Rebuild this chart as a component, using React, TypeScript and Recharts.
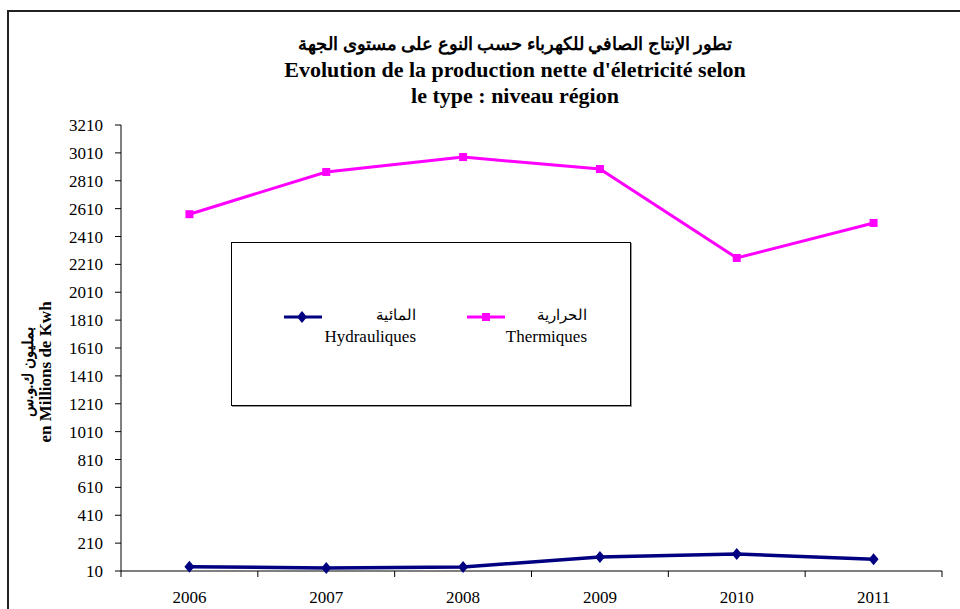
import { LineChart, Line, XAxis, YAxis, Legend, Label } from "recharts";

const years = ["2006", "2007", "2008", "2009", "2010", "2011"];
const hydrauliques = [41, 32, 39, 110, 132, 94];
const thermiques = [2570, 2873, 2980, 2894, 2256, 2507];
const yTicks = [10, 210, 410, 610, 810, 1010, 1210, 1410, 1610, 1810, 2010, 2210, 2410, 2610, 2810, 3010, 3210];

const seriesLabels: Record<string, { ar: string; fr: string }> = {
  hydro: { ar: "المائية", fr: "Hydrauliques" },
  thermo: { ar: "الحرارية", fr: "Thermiques" },
};

const data = years.map((year, i) => ({
  year,
  hydro: hydrauliques[i],
  thermo: thermiques[i],
}));

const W = 960;
const H = 609;
const margin = { top: 125, right: 18, bottom: 0, left: 0 };
const yAxisW = 121;
const band = (W - margin.left - margin.right - yAxisW) / years.length;
const serif = "'Liberation Serif', 'Times New Roman', serif";

const Diamond = (props: any) => {
  const { cx, cy } = props;
  if (cx == null || cy == null) return null;
  return (
    <path
      d={`M${cx},${cy - 6} L${cx + 5},${cy} L${cx},${cy + 6} L${cx - 5},${cy} Z`}
      fill="#000080"
    />
  );
};

const Square = (props: any) => {
  const { cx, cy } = props;
  if (cx == null || cy == null) return null;
  return <rect x={cx - 4} y={cy - 4} width={8} height={8} fill="#ff00ff" />;
};

const XTick = (props: any) => {
  const { x, y, payload, index } = props;
  const last = index === years.length - 1 || payload?.value === years[years.length - 1];
  return (
    <g>
      <line x1={x - band / 2} x2={x - band / 2} y1={y} y2={y + 6} stroke="#000" />
      {last && <line x1={x + band / 2} x2={x + band / 2} y1={y} y2={y + 6} stroke="#000" />}
      <text x={x} y={y + 32} textAnchor="middle" fontSize={17} fontFamily={serif} fill="#000">
        {payload.value}
      </text>
    </g>
  );
};

const itemPos = [
  { left: 52, width: 132 },
  { left: 235, width: 120 },
];

const LegendBox = (props: any) => {
  const payload = props.payload || [];
  return (
    <div style={{ position: "relative", width: "100%", height: "100%" }}>
      {payload.map((entry: any, i: number) => {
        const lab = seriesLabels[entry.dataKey] || { ar: "", fr: entry.value };
        const pos = itemPos[i] || itemPos[0];
        return (
          <div key={entry.dataKey} style={{ position: "absolute", left: pos.left, top: 62 }}>
            <svg width={38} height={24} style={{ position: "absolute", left: 0, top: 0 }}>
              <line x1={0} x2={38} y1={12} y2={12} stroke={entry.color} strokeWidth={3} />
              {entry.dataKey === "hydro" ? (
                <path d="M18,6 L23,12 L18,18 L13,12 Z" fill={entry.color} />
              ) : (
                <rect x={15} y={8} width={8} height={8} fill={entry.color} />
              )}
            </svg>
            <div
              style={{
                position: "absolute",
                left: 0,
                top: 0,
                width: pos.width,
                textAlign: "right",
                fontFamily: serif,
                fontSize: 17,
                lineHeight: "21px",
                color: "#000",
              }}
            >
              <div style={{ fontSize: 15 }}>{lab.ar}</div>
              <div>{lab.fr}</div>
            </div>
          </div>
        );
      })}
    </div>
  );
};

const YLabel = () => (
  <g>
    <text
      transform="translate(28,372) rotate(-90)"
      textAnchor="middle"
      dominantBaseline="central"
      fontSize={15}
      fontWeight="bold"
      fontFamily={serif}
      fill="#000"
    >
      بمليون ك.و.س
    </text>
    <text
      transform="translate(45,372) rotate(-90)"
      textAnchor="middle"
      dominantBaseline="central"
      fontSize={17}
      fontWeight="bold"
      fontFamily={serif}
      fill="#000"
    >
      en Millions de Kwh
    </text>
  </g>
);

export default function App() {
  return (
    <div
      style={{
        position: "fixed",
        left: 0,
        top: 0,
        width: W,
        height: H,
        overflow: "hidden",
        background: "#fff",
        fontFamily: serif,
      }}
    >
      <div
        style={{
          position: "absolute",
          left: 7,
          top: 10,
          width: 1000,
          height: 700,
          borderLeft: "2px solid #222",
          borderTop: "2px solid #222",
        }}
      />
      <div
        style={{
          position: "absolute",
          left: 215,
          width: 600,
          top: 31,
          textAlign: "center",
          fontWeight: "bold",
          fontSize: 22,
          lineHeight: "26px",
          color: "#000",
        }}
      >
        <div style={{ fontSize: 18 }}>تطور الإنتاج الصافي للكهرباء  حسب النوع على مستوى الجهة</div>
        <div>Evolution de la production nette d'életricité selon</div>
        <div>le type : niveau région</div>
      </div>
      <div style={{ position: "absolute", left: 0, top: 0 }}>
        <LineChart width={W} height={H} data={data} margin={margin}>
          <XAxis
            dataKey="year"
            scale="band"
            height={38}
            axisLine={{ stroke: "#000" }}
            tickLine={false}
            tickSize={0}
            tickMargin={0}
            tick={<XTick />}
            interval={0}
          />
          <YAxis
            width={yAxisW}
            domain={[10, 3210]}
            ticks={yTicks}
            interval={0}
            axisLine={{ stroke: "#000" }}
            tickLine={{ stroke: "#000" }}
            tickSize={6}
            tickMargin={12}
            tick={{ fill: "#000", fontSize: 17, fontFamily: serif }}
          >
            <Label content={<YLabel />} />
          </YAxis>
          <Legend
            layout="horizontal"
            verticalAlign="middle"
            align="center"
            content={<LegendBox />}
            wrapperStyle={{
              left: 231,
              top: 242,
              width: 400,
              height: 164,
              border: "1px solid #000",
              boxShadow: "1px 1px 0 #999",
              boxSizing: "border-box",
              background: "#fff",
            }}
          />
          <Line
            dataKey="hydro"
            name="Hydrauliques"
            stroke="#000080"
            strokeWidth={3.5}
            dot={<Diamond />}
            isAnimationActive={false}
          />
          <Line
            dataKey="thermo"
            name="Thermiques"
            stroke="#ff00ff"
            strokeWidth={3}
            dot={<Square />}
            isAnimationActive={false}
          />
        </LineChart>
      </div>
    </div>
  );
}
